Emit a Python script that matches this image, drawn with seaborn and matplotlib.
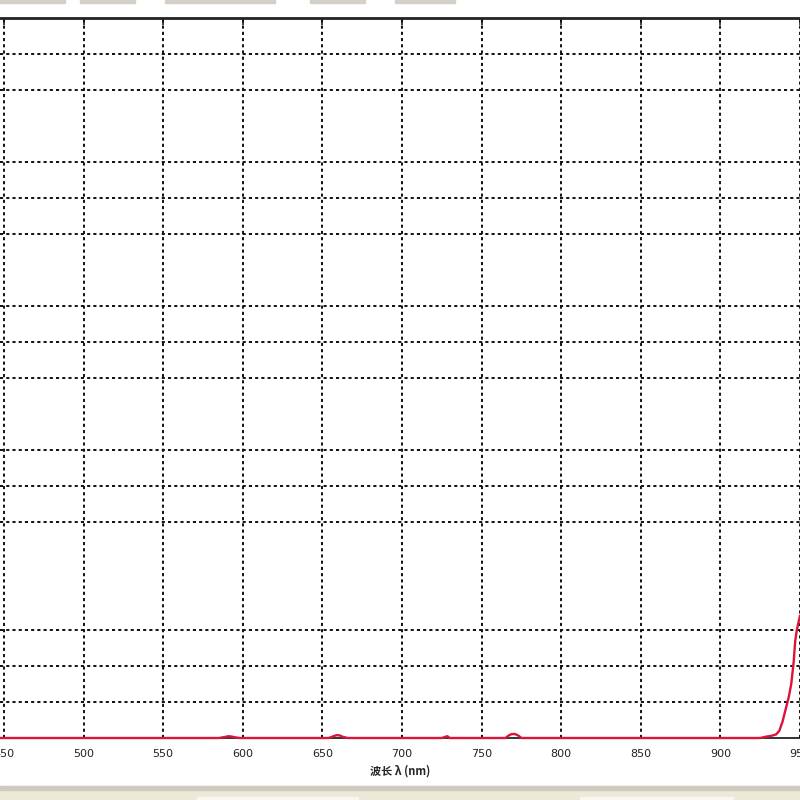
import matplotlib
matplotlib.use("Agg")
import matplotlib.pyplot as plt
from matplotlib.patches import Rectangle
import seaborn as sns
import pandas as pd

# -----------------------------
# Spectrum data
# -----------------------------
wavelength = [440, 585, 589, 591, 593, 595, 598, 654, 657, 659, 661, 663, 666,
              725, 727, 728.5, 730, 765, 767, 769, 771, 773, 775,
              925, 929, 932, 935, 937, 939, 941, 943, 944.5, 946, 947, 948, 950]
intensity = [0, 0, 0.03, 0.05, 0.04, 0.02, 0, 0, 0.05, 0.08, 0.07, 0.03, 0,
             0, 0.03, 0.05, 0, 0, 0.07, 0.11, 0.11, 0.07, 0,
             0, 0.04, 0.06, 0.1, 0.2, 0.45, 0.8, 1.15, 1.5, 2.1, 2.7, 3.0, 3.4]

x_major = [450, 500, 550, 600, 650, 700, 750, 800, 850, 900, 950]
x_minor_step = 12.5
y_grid = [1, 2, 3, 6, 7, 8, 10, 11, 12, 14, 15, 16, 18, 19]

df = pd.DataFrame({"wavelength": wavelength, "intensity": intensity})

sns.set_style("white")
plt.rcParams["font.family"] = ["DejaVu Sans"]

fig = plt.figure(figsize=(8, 8), dpi=100)
ax = fig.add_axes([0, 62 / 800, 1, 720 / 800])

sns.lineplot(data=df, x="wavelength", y="intensity", color="#DC143C",
             linewidth=1.7, ax=ax, clip_on=False, zorder=5)

ax.set_xlim(447.5, 947.5)
ax.set_ylim(0, 20)

# grid
ax.set_xticks(x_major)
minor = [450 + i * x_minor_step for i in range(41)]
ax.set_xticks(minor, minor=True)
ax.set_yticks(y_grid)
ax.set_yticklabels([])
ax.tick_params(axis="y", length=0)
ax.tick_params(axis="x", which="both", direction="out", length=4, width=1,
               color="#333333", labelsize=8, pad=4, labelcolor="#222222")
ax.grid(True, which="major", color="#111111", linewidth=1.4,
        linestyle=(0, (1.6, 1.6)))

# top ticks
sec = ax.secondary_xaxis("top")
sec.set_xticks(x_major)
sec.tick_params(direction="in", length=5, width=1.2, labeltop=False, color="#222222")
sec.spines["top"].set_visible(False)

for side in ["left", "right"]:
    ax.spines[side].set_visible(False)
ax.spines["top"].set_linewidth(2)
ax.spines["top"].set_color("#222222")
ax.spines["bottom"].set_linewidth(1.2)
ax.spines["bottom"].set_color("#111111")

ax.set_ylabel("")
ax.set_xlabel("波长 λ (nm)", family=["Noto Sans CJK SC", "DejaVu Sans"],
              fontsize=8, fontweight="bold", labelpad=4)

# window chrome around the plot
fig.add_artist(Rectangle((0, 0), 1, 14 / 800, transform=fig.transFigure,
                         color="#ECE9D8", zorder=0))
fig.add_artist(Rectangle((0, 10 / 800), 1, 4 / 800, transform=fig.transFigure,
                         color="#CFCBC0", zorder=0))
fig.add_artist(Rectangle((197 / 800, 0), 161 / 800, 3 / 800, transform=fig.transFigure,
                         color="#F7F6F2", zorder=1))
fig.add_artist(Rectangle((580 / 800, 0), 153 / 800, 3 / 800, transform=fig.transFigure,
                         color="#F7F6F2", zorder=1))
for x0, w in [(0, 65), (80, 55), (165, 110), (310, 55), (395, 60)]:
    fig.add_artist(Rectangle((x0 / 800, 797 / 800), w / 800, 3 / 800,
                             transform=fig.transFigure, color="#D4D0C8", zorder=1))

fig.savefig("out.png", dpi=100)
